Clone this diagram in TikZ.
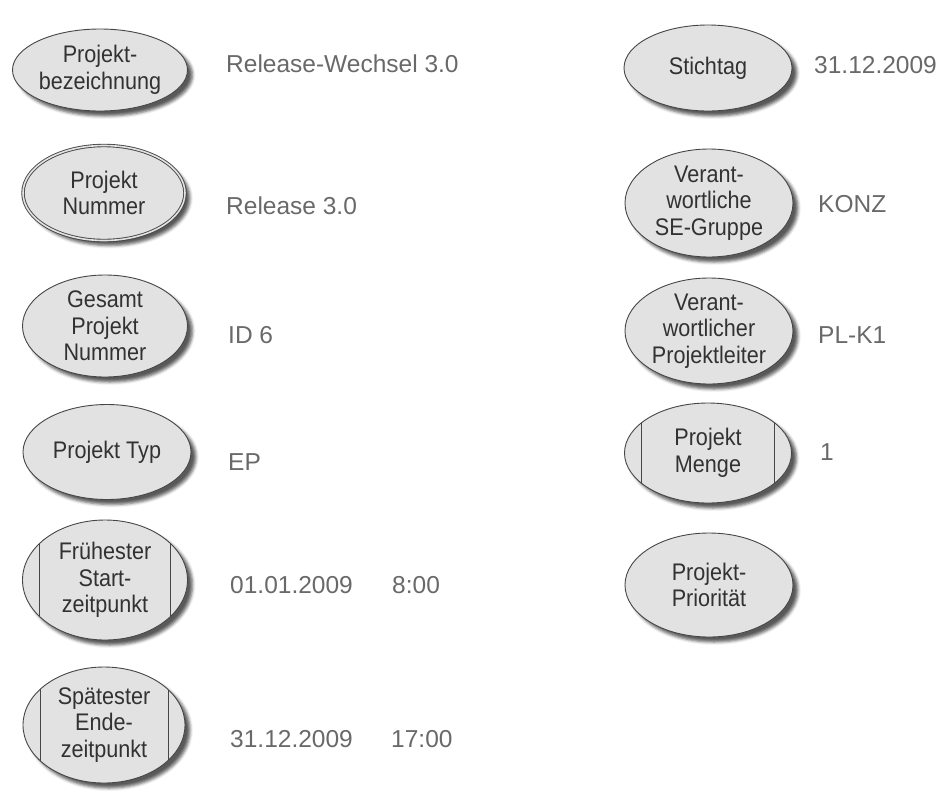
\documentclass[tikz,border=0pt]{standalone}
\usepackage{fontspec}
\setmainfont{Liberation Sans}
\newfontfamily\lblfont[FakeStretch=0.9]{Liberation Sans}
\definecolor{ovalfill}{RGB}{226,226,226}
\definecolor{ovalline}{RGB}{70,70,70}
\definecolor{lbltext}{RGB}{50,50,50}
\definecolor{valtext}{RGB}{105,105,105}
\usetikzlibrary{shapes.geometric, shadows.blur}

\begin{document}
\begin{tikzpicture}[x=1pt, y=-1pt,
    attr/.style={ellipse, draw=ovalline, fill=ovalfill, line width=0.9pt,
      inner sep=0pt, align=center, text=lbltext,
      font=\lblfont\fontsize{24}{26.5}\selectfont,
      blur shadow={shadow xshift=5pt, shadow yshift=-5pt,
        shadow blur radius=3pt, shadow opacity=65}},
    keyattr/.style={attr, double=ovalfill, double distance=1.6pt},
    multiattr/.style={attr, path picture={
        \draw[ovalline, line width=0.9pt]
          ([xshift=17pt]path picture bounding box.north west) -- ([xshift=17pt]path picture bounding box.south west)
          ([xshift=-17pt]path picture bounding box.north east) -- ([xshift=-17pt]path picture bounding box.south east);}},
    val/.style={anchor=base west, inner sep=0pt, text=valtext,
      font=\fontsize{24.5}{29}\selectfont},
  ]
    \useasboundingbox (0,0) rectangle (940,793);

    % left column
    \node[attr, minimum width=175pt, minimum height=82pt] (bez) at (100,70) {Projekt-\\bezeichnung};
    \node[keyattr, minimum width=162pt, minimum height=95pt] (num) at (104,193) {Projekt\\Nummer};
    \node[attr, minimum width=165pt, minimum height=102pt] (gesnum) at (105,326) {Gesamt\\Projekt\\Nummer};
    \node[attr, minimum width=168pt, minimum height=95pt] (typ) at (107,452) {Projekt Typ};
    \node[multiattr, minimum width=165pt, minimum height=120pt] (start) at (105,580) {Frühester\\Start-\\zeitpunkt};
    \node[multiattr, minimum width=162pt, minimum height=116pt] (ende) at (104,725) {Spätester\\Ende-\\zeitpunkt};

    \node[val] (bezval) at (226,72) {Release-Wechsel 3.0};
    \node[val] (numval) at (226,214) {Release 3.0};
    \node[val] (gesnumval) at (228,343) {ID 6};
    \node[val] (typval) at (228,470) {EP};
    \node[val] (startdate) at (230,593) {01.01.2009};
    \node[val] (starttime) at (392,593) {8:00};
    \node[val] (endedate) at (230,747) {31.12.2009};
    \node[val] (endetime) at (391,747) {17:00};

    % right column
    \node[attr, minimum width=168pt, minimum height=86pt] (stich) at (708,68) {Stichtag};
    \node[attr, minimum width=168pt, minimum height=108pt] (segrp) at (709,203) {Verant-\\wortliche\\SE-Gruppe};
    \node[attr, minimum width=168pt, minimum height=106pt] (pl) at (709,331) {Verant-\\wortlicher\\Projektleiter};
    \node[multiattr, minimum width=167pt, minimum height=100pt] (menge) at (708,453) {Projekt\\Menge};
    \node[attr, minimum width=168pt, minimum height=104pt] (prio) at (709,585) {Projekt-\\Priorität};

    \node[val] (stichval) at (814,73) {31.12.2009};
    \node[val] (segrpval) at (818,212) {KONZ};
    \node[val] (plval) at (818,343) {PL-K1};
    \node[val] (mengeval) at (820,460) {1};
  \end{tikzpicture}
\end{document}
